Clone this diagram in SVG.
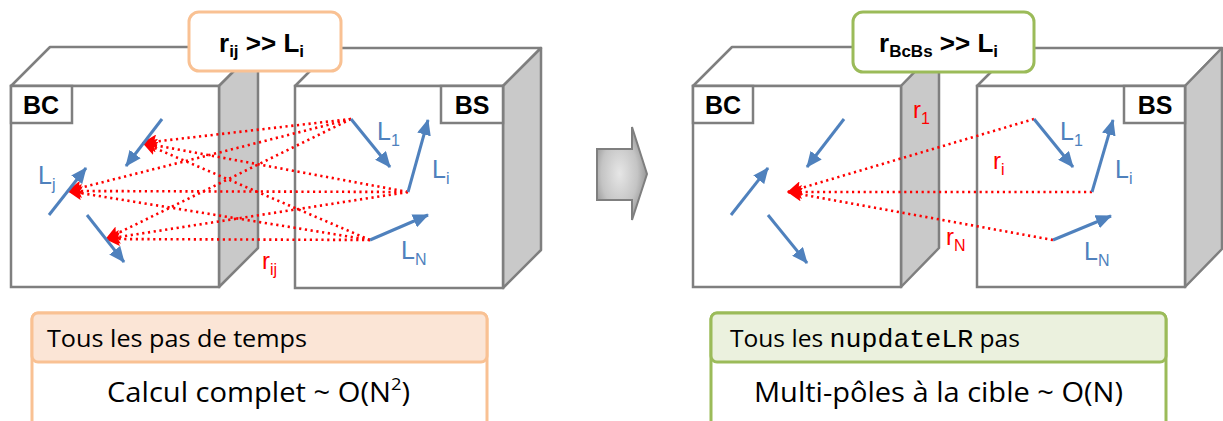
<svg xmlns="http://www.w3.org/2000/svg" width="1223" height="421" viewBox="0 0 1223 421">
<style>
.front{fill:#fff;stroke:#7f7f7f;stroke-width:2.5}
.top{fill:#fff;stroke:#7f7f7f;stroke-width:2.5;stroke-linejoin:round}
.side{fill:#c9c9c9;stroke:#7f7f7f;stroke-width:2.5;stroke-linejoin:round}
.tag{fill:#fff;stroke:#7f7f7f;stroke-width:2.5}
.tagt{font-family:"Liberation Sans",Arial,sans-serif;font-weight:bold;font-size:25px;fill:#000}
.hdr{font-family:"Liberation Sans",Arial,sans-serif;font-weight:bold;font-size:26px;fill:#000}
.sub{font-size:16px}
.hsub{font-size:17px}
.bl{font-family:"Liberation Sans",Arial,sans-serif;font-size:25px;fill:#4f81bd}
.rd{font-family:"Liberation Sans",Arial,sans-serif;font-size:24px;fill:#ff0000}
.barrow{stroke:#4f81bd;stroke-width:3;fill:none;marker-end:url(#bh)}
.rdot{stroke:#ff0000;stroke-width:2.6;fill:none;stroke-dasharray:2.2 3.6;marker-end:url(#rh)}
.cal{font-family:"Open Sans","Noto Sans",sans-serif;fill:#000}
.mono{font-family:"Liberation Mono","Courier New",monospace}
</style>
<defs>
<marker id="bh" viewBox="0 0 16 14" refX="15" refY="7" markerWidth="16" markerHeight="14" orient="auto" markerUnits="userSpaceOnUse">
<path d="M0,0 L16,7 L0,14 z" fill="#4f81bd"/>
</marker>
<marker id="rh" viewBox="0 0 15 14" refX="14" refY="7" markerWidth="15" markerHeight="14" orient="auto" markerUnits="userSpaceOnUse">
<path d="M0,0 L15,7 L0,14 L3,7 z" fill="#ff0000"/>
</marker>
<radialGradient id="ag" cx="0.45" cy="0.5" r="0.6">
<stop offset="0" stop-color="#e6e6e6"/>
<stop offset="0.6" stop-color="#c4c4c4"/>
<stop offset="1" stop-color="#8c8c8c"/>
</radialGradient>
</defs>

<!-- LEFT DIAGRAM -->
<g id="left-bc">
<polygon class="top" points="11,86 50,47 258,47 219,86"/>
<polygon class="side" points="219,86 258,47 258,248 219,287"/>
<rect class="front" x="11" y="86" width="208" height="201"/>
<rect class="tag" x="11" y="86" width="61" height="37"/>
<text class="tagt" x="41" y="114" text-anchor="middle">BC</text>
</g>
<g id="left-bs">
<polygon class="top" points="295,86 333,48 541,48 503,86"/>
<polygon class="side" points="503,86 541,48 541,250 503,288"/>
<rect class="front" x="295" y="86" width="208" height="202"/>
<rect class="tag" x="441" y="86" width="62" height="37"/>
<text class="tagt" x="472" y="114" text-anchor="middle">BS</text>
</g>

<g id="left-connectors">
<path class="rdot" d="M351,119 L143,143"/>
<path class="rdot" d="M351,119 L68,191"/>
<path class="rdot" d="M351,119 L106,239"/>
<path class="rdot" d="M408,192 L143,143"/>
<path class="rdot" d="M408,192 L68,191"/>
<path class="rdot" d="M408,192 L106,239"/>
<path class="rdot" d="M370,240 L143,143"/>
<path class="rdot" d="M370,240 L68,191"/>
<path class="rdot" d="M370,240 L106,239"/>
<path class="barrow" d="M162,119 L126,166"/>
<path class="barrow" d="M49,215 L86,168"/>
<path class="barrow" d="M87,215 L124,262"/>
<path class="barrow" d="M351,119 L390,167"/>
<path class="barrow" d="M408,192 L428,120"/>
<path class="barrow" d="M370,240 L428,215"/>
</g>
<g id="left-labels">
<text class="bl" x="38" y="184">L<tspan class="sub" dy="6">j</tspan></text>
<text class="bl" x="377" y="140">L<tspan class="sub" dy="6">1</tspan></text>
<text class="bl" x="432" y="178">L<tspan class="sub" dy="6">i</tspan></text>
<text class="bl" x="401" y="259">L<tspan class="sub" dy="6">N</tspan></text>
<text class="rd" x="262" y="269">r<tspan class="sub" dy="6">ij</tspan></text>
</g>
<g id="left-title">
<rect x="189" y="12" width="152" height="59" rx="10" fill="#fff" stroke="#f9c193" stroke-width="3"/>
<text class="hdr" x="219" y="52">r<tspan class="hsub" dy="5">ij</tspan><tspan dy="-5"> &gt;&gt; L</tspan><tspan class="hsub" dy="5">i</tspan></text>
</g>

<!-- MIDDLE ARROW -->
<g id="transition-arrow">
<polygon points="597,149 632,149 632,127 647,174 632,220 632,200 597,200" fill="url(#ag)" stroke="#7f7f7f" stroke-width="2"/>
</g>

<!-- RIGHT DIAGRAM -->
<g id="right-bc">
<polygon class="top" points="693,86 732,47 939,47 901,86"/>
<polygon class="side" points="901,86 939,47 939,248 901,287"/>
<rect class="front" x="693" y="86" width="208" height="201"/>
<rect class="tag" x="693" y="86" width="60" height="37"/>
<text class="tagt" x="723" y="114" text-anchor="middle">BC</text>
</g>
<g id="right-bs">
<polygon class="top" points="977,86 1015,48 1222,48 1185,86"/>
<polygon class="side" points="1185,86 1222,48 1222,249 1185,287"/>
<rect class="front" x="977" y="86" width="208" height="201"/>
<rect class="tag" x="1124" y="86" width="61" height="37"/>
<text class="tagt" x="1155" y="114" text-anchor="middle">BS</text>
</g>

<g id="right-connectors">
<path class="rdot" d="M1034,119 L788,192"/>
<path class="rdot" d="M1092,192 L788,192"/>
<path class="rdot" d="M1053,240 L788,192"/>
<path class="barrow" d="M844,119 L807,167"/>
<path class="barrow" d="M731,215 L768,168"/>
<path class="barrow" d="M768,215 L807,263"/>
<path class="barrow" d="M1034,119 L1073,167"/>
<path class="barrow" d="M1092,192 L1113,120"/>
<path class="barrow" d="M1053,240 L1111,216"/>
</g>
<g id="right-labels">
<text class="bl" x="1060" y="140">L<tspan class="sub" dy="6">1</tspan></text>
<text class="bl" x="1115" y="178">L<tspan class="sub" dy="6">i</tspan></text>
<text class="bl" x="1084" y="260">L<tspan class="sub" dy="6">N</tspan></text>
<text class="rd" x="913" y="118">r<tspan class="sub" dy="6">1</tspan></text>
<text class="rd" x="993" y="169">r<tspan class="sub" dy="6">i</tspan></text>
<text class="rd" x="946" y="245">r<tspan class="sub" dy="6">N</tspan></text>
</g>
<g id="right-title">
<rect x="853" y="12" width="181" height="60" rx="10" fill="#fff" stroke="#9bbb59" stroke-width="3"/>
<text class="hdr" x="879" y="52">r<tspan class="hsub" dy="5">BcBs</tspan><tspan dy="-5"> &gt;&gt; L</tspan><tspan class="hsub" dy="5">i</tspan></text>
</g>

<!-- BOTTOM BOXES -->
<g id="left-box">
<rect x="32" y="313" width="455" height="130" rx="6" fill="#fff" stroke="#f9c193" stroke-width="3"/>
<rect x="32" y="313" width="455" height="49" rx="6" fill="#fbe5d6" stroke="#f9c193" stroke-width="3"/>
<text class="cal" x="47" y="347" font-size="24" textLength="260" lengthAdjust="spacingAndGlyphs">Tous les pas de temps</text>
<text class="cal" x="107" y="402" font-size="27" textLength="303" lengthAdjust="spacingAndGlyphs">Calcul complet ~ O(N<tspan font-size="17" dy="-12">2</tspan><tspan dy="12">)</tspan></text>
</g>
<g id="right-box">
<rect x="711" y="313" width="455" height="130" rx="6" fill="#fff" stroke="#9bbb59" stroke-width="3"/>
<rect x="711" y="313" width="455" height="49" rx="6" fill="#ebf1de" stroke="#9bbb59" stroke-width="3"/>
<text class="cal" x="730" y="347" font-size="24" textLength="290" lengthAdjust="spacingAndGlyphs">Tous les <tspan class="mono" font-size="26">nupdateLR</tspan> pas</text>
<text class="cal" x="754" y="402" font-size="27" textLength="369" lengthAdjust="spacingAndGlyphs">Multi-pôles à la cible ~ O(N)</text>
</g>
</svg>
